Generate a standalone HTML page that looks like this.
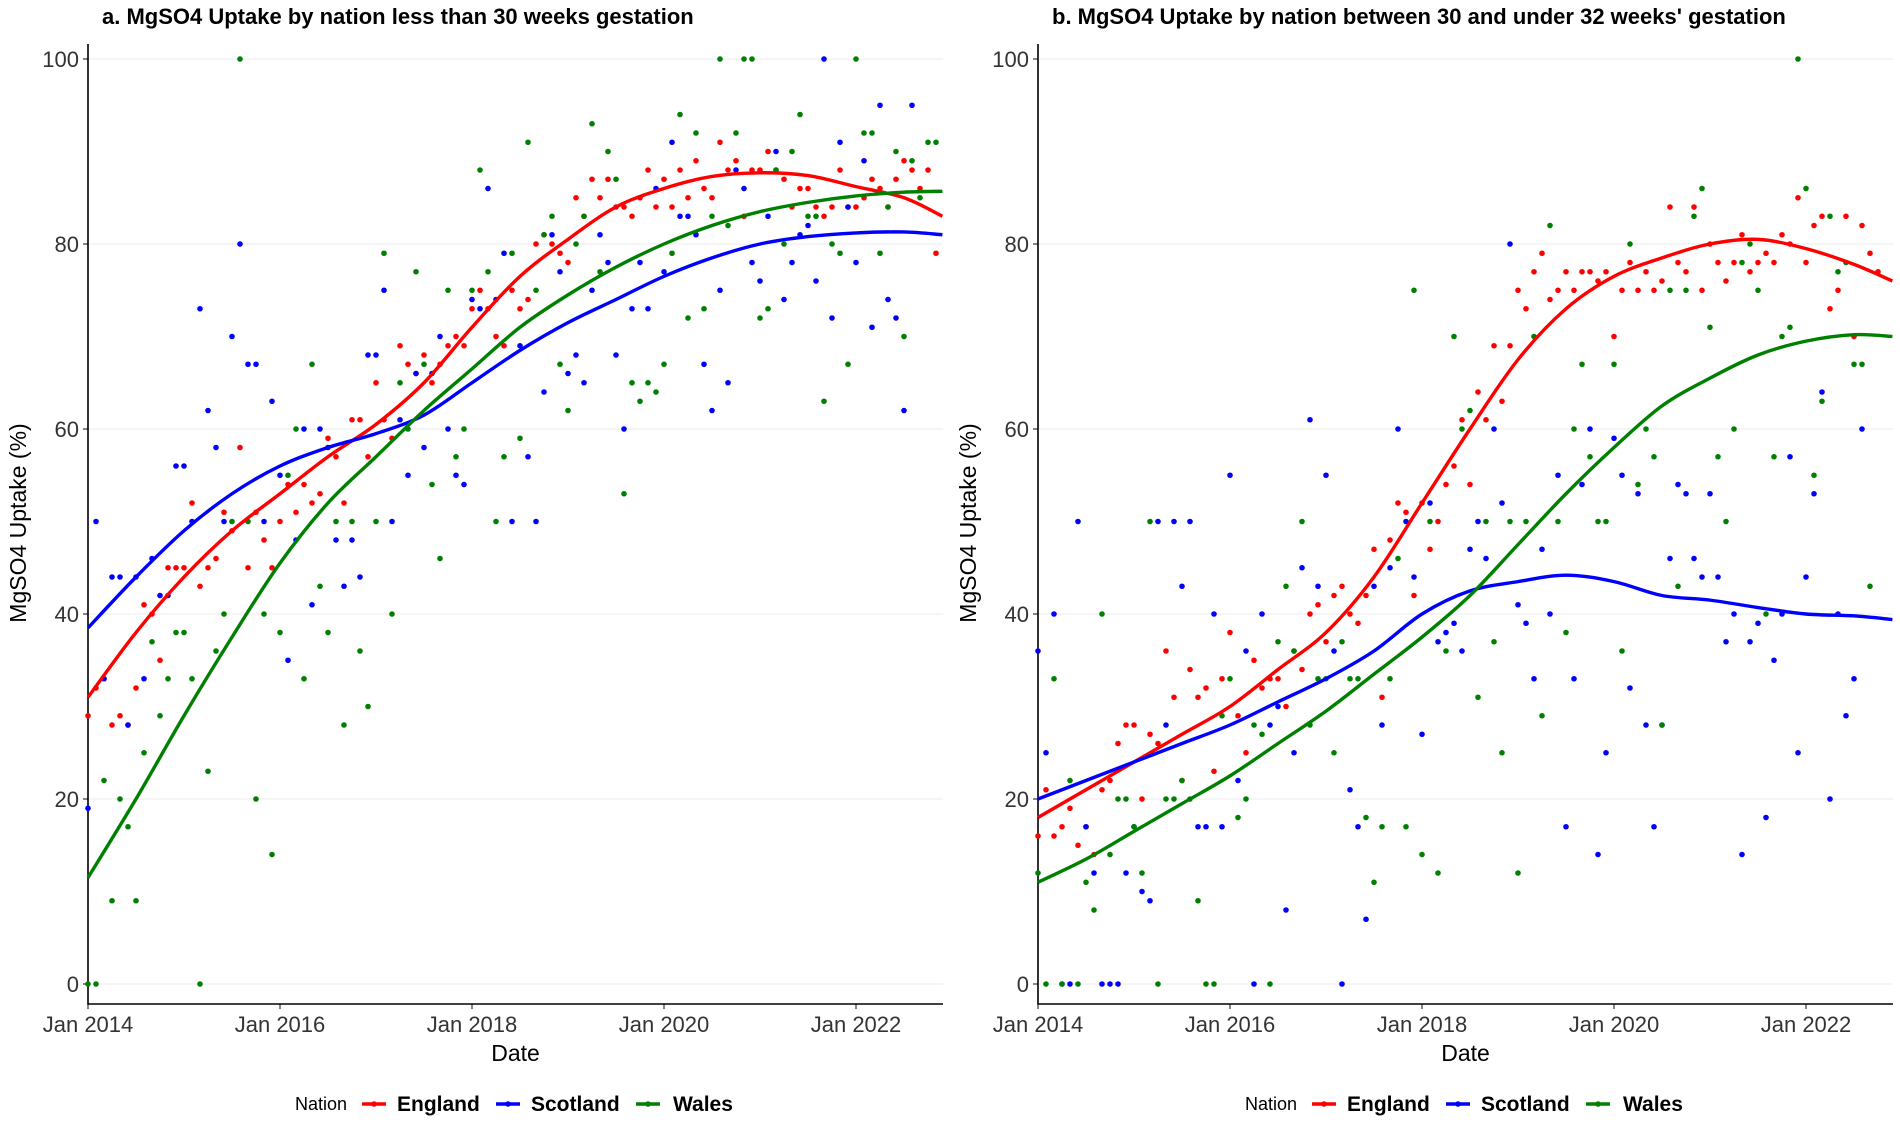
<!DOCTYPE html>
<html><head><meta charset="utf-8"><style>
body{margin:0;background:#fff;font-family:"Liberation Sans",sans-serif}
svg{display:block}
</style></head><body>
<svg id="c" width="1900" height="1125"></svg>
<script>
const tickYears=["Jan 2014","Jan 2016","Jan 2018","Jan 2020","Jan 2022"];
const yTicks=[0,20,40,60,80,100];
const titles=["a. MgSO4 Uptake by nation less than 30 weeks gestation","b. MgSO4 Uptake by nation between 30 and under 32 weeks' gestation"];
const smoothYears=[2014,2014.5,2015,2015.5,2016,2016.5,2017,2017.5,2018,2018.5,2019,2019.5,2020,2020.5,2021,2021.5,2022,2022.5,2022.9];
const aEngSmooth=[31,38,44,49,53,57,60.5,65,71,76.5,80.5,84,86,87.3,87.7,87.4,86.2,85,83];
const aScoSmooth=[38.5,44,49,53,56,58,59.5,61.5,65,68.5,71.5,74,76.5,78.5,80,80.8,81.2,81.3,81];
const aWalSmooth=[11.5,20,29,37.5,45.5,52,57,62,66.5,71,74.5,77.5,80,82,83.5,84.5,85.2,85.6,85.7];
const bEngSmooth=[18,21,24,27,30,34,38,44,52,60,67.5,73,76.5,78.5,80,80.5,79.5,77.8,76];
const bScoSmooth=[20,22,24,26,28,30.5,33,36,40,42.5,43.5,44.2,43.5,42,41.5,40.7,40,39.8,39.4];
const bWalSmooth=[11,13.5,16.5,19.5,22.5,26,29.5,33.5,37.5,42,47.5,53,58,62.5,65.5,68,69.5,70.2,70];
const aEngPts=[29,32,33,28,29,28,32,41,40,35,45,45,45,52,43,45,46,51,49,58,45,51,48,45,50,54,51,54,52,53,59,57,52,61,61,57,65,61,59,69,67,66,68,65,67,69,70,69,73,75,73,70,69,75,73,74,80,81,80,79,78,85,83,87,85,87,84,84,83,85,88,84,87,84,88,85,89,86,85,91,88,89,83,88,88,90,88,87,84,86,86,84,83,84,88,84,84,85,87,86,84,87,89,88,86,88,79];
const aScoPts=[19,50,33,44,44,28,44,33,46,42,42,56,56,50,73,62,58,50,70,80,67,67,50,63,55,35,48,60,41,60,58,48,43,48,44,68,68,75,50,61,55,66,58,66,70,60,55,54,74,73,86,74,79,50,69,57,50,64,81,77,66,68,65,75,81,78,68,60,73,78,73,86,77,91,83,83,81,67,62,75,65,88,86,78,76,83,90,74,78,81,82,76,100,72,91,84,78,89,71,95,74,72,62,95];
const aWalPts=[0,0,22,9,20,17,9,25,37,29,33,38,38,33,0,23,36,40,50,100,50,20,40,14,38,55,60,33,67,43,38,50,28,50,36,30,50,79,40,65,60,77,67,54,46,75,57,60,75,88,77,50,57,79,59,91,75,81,83,67,62,80,83,93,77,90,87,53,65,63,65,64,67,79,94,72,92,73,83,100,82,92,100,100,72,73,88,80,90,94,83,83,63,80,79,67,100,92,92,79,84,90,70,89,85,91,91];
const bEngPts=[16,21,16,17,19,15,17,14,21,22,26,28,28,20,27,26,36,31,22,34,31,32,23,33,38,29,25,35,32,33,33,30,36,34,40,41,37,42,43,40,39,42,47,31,48,52,51,42,52,47,50,54,56,61,54,64,61,69,63,69,75,73,77,79,74,75,77,75,77,77,76,77,70,75,78,75,77,75,76,84,78,77,84,75,80,78,76,78,81,77,78,79,78,81,80,85,78,82,83,73,75,83,70,82,79,77];
const bScoPts=[36,25,40,0,0,50,17,12,0,0,0,12,17,10,9,50,28,50,43,50,17,17,40,17,55,22,36,0,40,28,30,8,25,45,61,43,55,36,0,21,17,7,43,28,45,60,50,44,27,52,37,38,39,36,47,50,46,60,52,80,41,39,33,47,40,55,17,33,54,60,14,25,59,55,32,53,28,17,28,46,54,53,46,44,53,44,37,40,14,37,39,18,35,40,57,25,44,53,64,20,40,29,33,60];
const bWalPts=[12,0,33,0,22,0,11,8,40,14,20,20,17,12,50,0,20,20,22,20,9,0,0,29,33,18,20,28,27,0,37,43,36,50,28,33,33,25,37,33,33,18,11,17,33,46,17,75,14,50,12,36,70,60,62,31,50,37,25,50,12,50,70,29,82,50,38,60,67,57,50,50,67,36,80,54,60,57,28,75,43,75,83,86,71,57,50,60,78,80,75,40,57,70,71,100,86,55,63,83,77,78,67,67,43];

const NS="http://www.w3.org/2000/svg";
const svg=document.getElementById('c');
function mk(tag,attrs,parent){const e=document.createElementNS(NS,tag);for(const k in attrs)e.setAttribute(k,attrs[k]);(parent||svg).appendChild(e);return e;}
const colors={eng:"#ff0000",sco:"#0000ff",wal:"#008000"};
function panel(off,title,pts,sm){
  const x0=88+off, xEnd=943+off, pxYear=96;
  const X=t=>x0+(t-2014)*pxYear;
  const XM=m=>X(2014+m/12);
  const Y=v=>984-v*9.25;
  const AX=1004;
  const g=mk('g',{});
  
  
  yTicks.forEach(v=>{const l=mk('line',{x1:x0,x2:xEnd,y1:Y(v),y2:Y(v),stroke:"#ebebeb","stroke-width":1},g);
    
    const t=mk('text',{x:x0-9,y:Y(v)+8,"text-anchor":"end","font-size":22,fill:"#333"},g);t.textContent=v;
    
    mk('line',{x1:x0-5,x2:x0,y1:Y(v),y2:Y(v),stroke:"#333","stroke-width":1.2},g);});
  tickYears.forEach((s,i)=>{const xx=X(2014+2*i);
    mk('line',{x1:xx,x2:xx,y1:AX,y2:AX+5,stroke:"#333","stroke-width":1.2},g);
    const t=mk('text',{x:xx,y:1032,"text-anchor":"middle","font-size":22,fill:"#333"},g);t.textContent=s;
    });
  const ax=mk('path',{d:`M${x0},44 V${AX} H${xEnd}`,fill:"none",stroke:"#000","stroke-width":1.6},g);
  
  const tt=mk('text',{x:x0+14,y:24,"font-size":22,"font-weight":"bold"},g);tt.textContent=title;
  
  const xt=mk('text',{x:(x0+xEnd)/2,y:1061,"text-anchor":"middle","font-size":23},g);xt.textContent="Date";
  
  const yt=mk('text',{x:0,y:0,"text-anchor":"middle","font-size":23,transform:`translate(${off+26},523) rotate(-90)`},g);yt.textContent="MgSO4 Uptake (%)";
  
  ['eng','sco','wal'].forEach((k,si)=>{
    pts[si].forEach((v,m)=>{const cx=XM(m);if(cx>xEnd+1)return;
      const c=mk('circle',{cx:cx,cy:Y(v),r:2.8,fill:colors[k]},g);
      });
  });
  ['eng','sco','wal'].forEach((k,si)=>{
    const P=smoothYears.map((t,i)=>[X(t),Y(sm[si][i])]);
    let d=`M${P[0][0]},${P[0][1]}`;
    for(let i=0;i<P.length-1;i++){const p0=P[Math.max(0,i-1)],p1=P[i],p2=P[i+1],p3=P[Math.min(P.length-1,i+2)];
      d+=` C${p1[0]+(p2[0]-p0[0])/6},${p1[1]+(p2[1]-p0[1])/6} ${p2[0]-(p3[0]-p1[0])/6},${p2[1]-(p3[1]-p1[1])/6} ${p2[0]},${p2[1]}`;}
    const l=mk('path',{d:d,fill:"none",stroke:colors[k],"stroke-width":3.4},g);
    
  });
  const lg=mk('g',{},g);
  const n=mk('text',{x:off+295,y:1110,"font-size":18},lg);n.textContent="Nation";
  [["eng","England",362,397],["sco","Scotland",496,531],["wal","Wales",636,673]].forEach(([k,s,lx,tx])=>{
    mk('line',{x1:off+lx,x2:off+lx+24,y1:1104,y2:1104,stroke:colors[k],"stroke-width":3.4},lg);
    mk('circle',{cx:off+lx+12,cy:1104,r:2.8,fill:colors[k]},lg);
    const t=mk('text',{x:off+tx,y:1111,"font-size":21,"font-weight":"bold"},lg);t.textContent=s;
    
  });
}
panel(0,titles[0],[aEngPts,aScoPts,aWalPts],[aEngSmooth,aScoSmooth,aWalSmooth]);
panel(950,titles[1],[bEngPts,bScoPts,bWalPts],[bEngSmooth,bScoSmooth,bWalSmooth]);
</script>
</body></html>
